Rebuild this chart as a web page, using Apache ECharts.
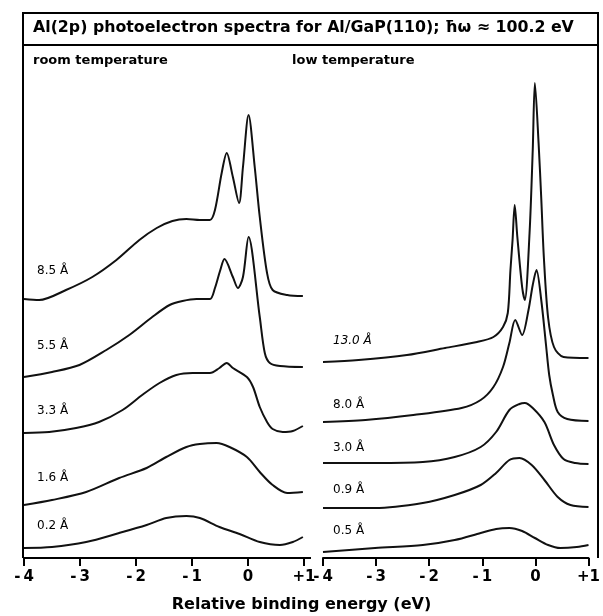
<!DOCTYPE html>
<html lang="en">
<head>
    <meta charset="UTF-8">
    <title>Al(2p) photoelectron spectra</title>
    <script src="https://cdn.jsdelivr.net/npm/echarts@6/dist/echarts.min.js"></script>
    <style>
        html, body { margin: 0; padding: 0; background: #fff; }
        #charts { width: 603px; height: 616px; }
    </style>
</head>
<body>
<div id="charts"></div>
<script>
    // tick labels (eV)
    var tickValues = [-4, -3, -2, -1, 0, 1];

    // room temperature, coverage labels
    var rtNames = ['8.5 Å', '5.5 Å', '3.3 Å', '1.6 Å', '0.2 Å'];
    // low temperature, coverage labels
    var ltNames = ['13.0 Å', '8.0 Å', '3.0 Å', '0.9 Å', '0.5 Å'];

    // room temperature spectra (energy, stacked intensity)
    var rt85E = [-4, -3.73, -3.25, -2.78, -2.35, -1.94, -1.63, -1.35, -1.10, -0.86, -0.68, -0.59, -0.47, -0.38, -0.27, -0.16, -0.09, 0.01, 0.12, 0.21, 0.34, 0.44, 0.70, 0.98];
    var rt85I = [259, 258, 268, 281, 298, 318, 330, 337, 339, 338, 338, 348, 385, 405, 381, 355, 391, 443, 391, 341, 285, 268, 263, 262];

    var rt55E = [-4, -3.50, -3.01, -2.53, -2.12, -1.71, -1.40, -1.17, -0.92, -0.68, -0.59, -0.50, -0.42, -0.27, -0.18, -0.09, 0.01, 0.21, 0.30, 0.39, 0.57, 0.98];
    var rt55I = [181, 186, 193, 208, 223, 241, 253, 257, 259, 259, 270, 287, 299, 281, 270, 281, 321, 241, 205, 195, 192, 191];

    var rt33E = [-4, -3.55, -3.07, -2.66, -2.24, -1.89, -1.58, -1.28, -0.99, -0.68, -0.51, -0.38, -0.27, -0.02, 0.09, 0.21, 0.34, 0.44, 0.62, 0.80, 0.98];
    var rt33I = [125, 126, 130, 136, 148, 163, 175, 183, 185, 185, 190, 195, 190, 181, 171, 151, 136, 129, 126, 127, 132];

    var rt16E = [-4, -3.50, -2.89, -2.30, -1.81, -1.46, -1.10, -0.86, -0.56, -0.33, -0.02, 0.21, 0.44, 0.70, 0.98];
    var rt16I = [53, 58, 66, 80, 90, 101, 111, 114, 115, 111, 101, 86, 73, 65, 66];

    var rt02E = [-4, -3.50, -2.89, -2.30, -1.81, -1.46, -1.10, -0.86, -0.51, -0.15, 0.21, 0.57, 0.80, 0.98];
    var rt02I = [10, 11, 16, 25, 33, 40, 42, 40, 31, 24, 16, 13, 16, 21];

    // low temperature spectra
    var lt130E = [-4, -3.33, -2.42, -1.70, -1.10, -0.79, -0.61, -0.52, -0.47, -0.43, -0.39, -0.34, -0.25, -0.20, -0.11, -0.05, -0.01, 0.06, 0.11, 0.16, 0.24, 0.35, 0.53, 1.0];
    var lt130I = [196, 198, 203, 210, 216, 221, 231, 245, 288, 318, 353, 321, 271, 258, 325, 408, 475, 415, 360, 300, 240, 211, 201, 200];

    var lt80E = [-4, -3.20, -2.30, -1.39, -1.03, -0.79, -0.61, -0.49, -0.38, -0.25, -0.13, -0.05, 0.02, 0.11, 0.20, 0.26, 0.33, 0.42, 0.60, 1.0];
    var lt80I = [136, 138, 143, 150, 158, 171, 191, 215, 238, 223, 248, 273, 288, 258, 213, 183, 163, 146, 139, 137];

    var lt30E = [-4, -3.02, -2.12, -1.52, -1.03, -0.74, -0.49, -0.30, -0.20, -0.05, 0.17, 0.35, 0.53, 0.75, 1.0];
    var lt30I = [95, 95, 96, 101, 111, 126, 148, 154, 155, 150, 136, 113, 99, 95, 94];

    var lt09E = [-4, -3.02, -2.12, -1.52, -1.03, -0.74, -0.49, -0.30, -0.07, 0.17, 0.42, 0.66, 1.0];
    var lt09I = [50, 50, 55, 63, 73, 85, 98, 100, 93, 78, 61, 53, 51];

    var lt05E = [-4, -3.02, -2.12, -1.52, -1.03, -0.74, -0.49, -0.25, -0.01, 0.24, 0.47, 0.78, 1.0];
    var lt05I = [6, 10, 13, 18, 25, 29, 30, 27, 20, 13, 10, 11, 13];

    var rtCurves = [[rt85E, rt85I], [rt55E, rt55I], [rt33E, rt33I], [rt16E, rt16I], [rt02E, rt02I]];
    var ltCurves = [[lt130E, lt130I], [lt80E, lt80I], [lt30E, lt30I], [lt09E, lt09I], [lt05E, lt05I]];

    var font = 'DejaVu Sans';

    function pairs(e, v) {
        return e.map(function (x, i) { return [x, v[i]]; });
    }

    function tickText(v) {
        if (v < 0) return '-\u2009' + Math.abs(v);
        if (v > 0) return '+' + v;
        return '0';
    }

    function makeX(idx) {
        return {
            gridIndex: idx,
            type: 'value',
            min: -4,
            max: 1,
            interval: 1,
            axisLine: { lineStyle: { color: '#000', width: 2 } },
            axisTick: { length: 8, lineStyle: { color: '#000', width: 2 } },
            axisLabel: {
                color: '#000', fontSize: 15, fontWeight: 'bold', fontFamily: font, margin: 12,
                formatter: function (v) { return tickValues.indexOf(v) >= 0 ? tickText(v) : ''; }
            },
            splitLine: { show: false }
        };
    }

    function makeY(idx) {
        return {
            gridIndex: idx, type: 'value', min: 0, max: 513, show: false
        };
    }

    var series = [];
    rtCurves.forEach(function (c, i) {
        series.push({
            name: rtNames[i], type: 'line', xAxisIndex: 0, yAxisIndex: 0,
            data: pairs(c[0], c[1]), showSymbol: false, smooth: 0.3,
            lineStyle: { color: '#111', width: 2 }
        });
    });
    ltCurves.forEach(function (c, i) {
        series.push({
            name: ltNames[i], type: 'line', xAxisIndex: 1, yAxisIndex: 1,
            data: pairs(c[0], c[1]), showSymbol: false, smooth: 0.3,
            lineStyle: { color: '#111', width: 2 }
        });
    });

    // label spots for the coverage text
    var rtLabelY = [273, 348, 413, 480, 528];
    var ltLabelY = [343, 407, 450, 492, 533];

    var graphics = [
        { type: 'polyline', shape: { points: [[23, 558], [23, 13], [598, 13], [598, 558]] },
          style: { fill: null, stroke: '#000', lineWidth: 2 } },
        { type: 'line', shape: { x1: 23, y1: 45, x2: 598, y2: 45 }, style: { stroke: '#000', lineWidth: 2 } },
        // left axis runs a little past +1
        { type: 'line', shape: { x1: 304, y1: 558, x2: 311, y2: 558 }, style: { stroke: '#000', lineWidth: 2 } },
        { type: 'text', left: 33, top: 20,
          style: { text: 'Al(2p) photoelectron spectra for Al/GaP(110); ħω ≈ 100.2 eV', font: 'bold 15.8px ' + font, fill: '#000' } },
        { type: 'text', left: 33, top: 54,
          style: { text: 'room temperature', font: 'bold 13px ' + font, fill: '#000' } },
        { type: 'text', left: 292, top: 54,
          style: { text: 'low temperature', font: 'bold 13px ' + font, fill: '#000' } },
        { type: 'text', left: 'center', top: 597,
          style: { text: 'Relative binding energy (eV)', font: 'bold 16px ' + font, fill: '#000' } }
    ];
    rtNames.forEach(function (n, i) {
        graphics.push({ type: 'text', left: 37, top: rtLabelY[i] - 8,
            style: { text: n, font: '12px ' + font, fill: '#000' } });
    });
    ltNames.forEach(function (n, i) {
        graphics.push({ type: 'text', left: 333, top: ltLabelY[i] - 8,
            style: { text: n, font: (i === 0 ? 'italic ' : '') + '12px ' + font, fill: '#000' } });
    });

    var option = {
        animation: false,
        backgroundColor: '#fff',
        grid: [
            { left: 24, right: 299, top: 45, bottom: 58 },
            { left: 323, right: 5, top: 45, bottom: 58 }
        ],
        xAxis: [makeX(0), makeX(1)],
        yAxis: [makeY(0), makeY(1)],
        series: series,
        graphic: graphics
    };

    var myChart = echarts.init(document.getElementById('charts'));
    myChart.setOption(option);
</script>
</body>
</html>
